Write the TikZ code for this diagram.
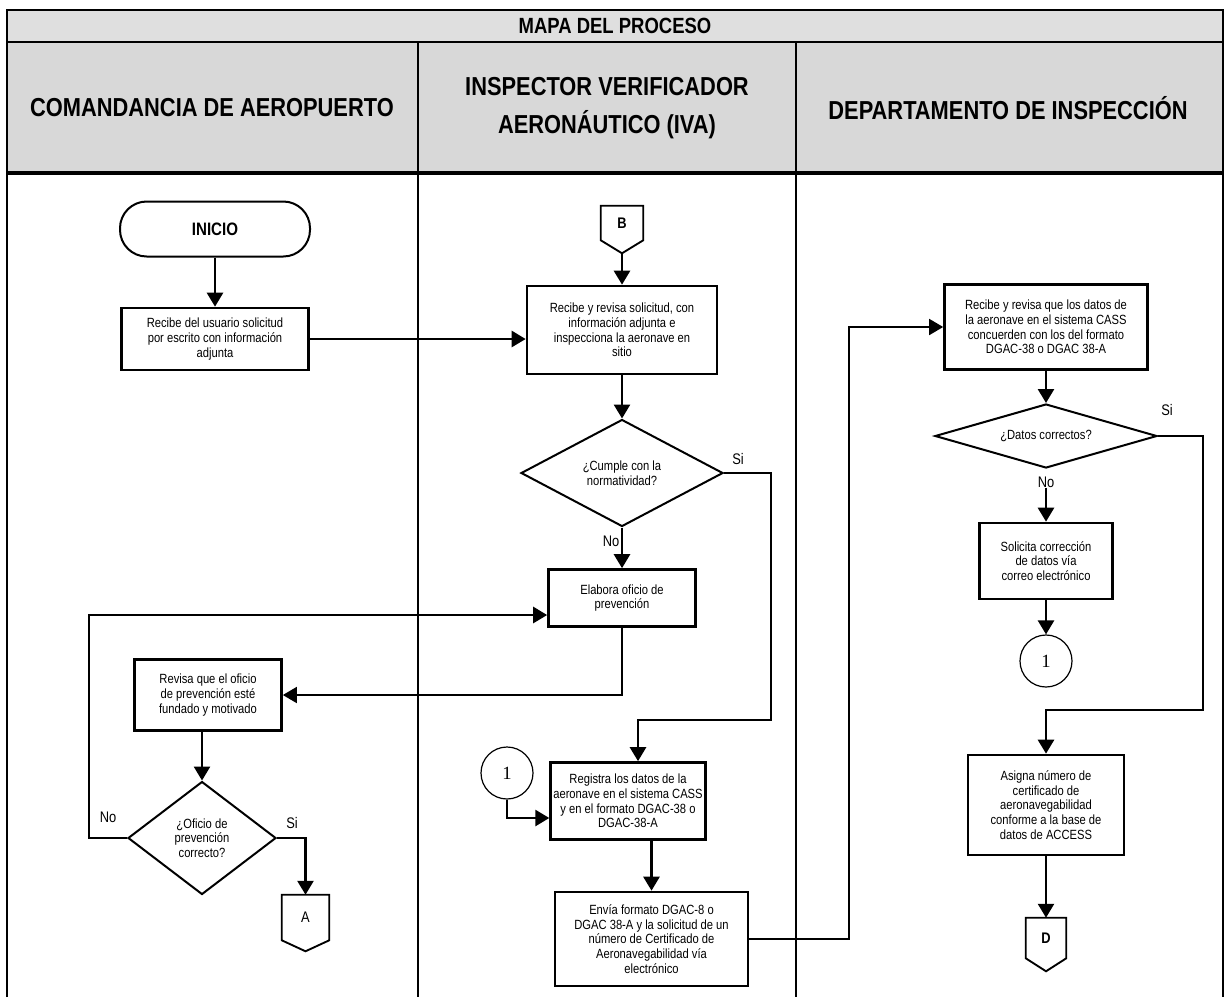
\documentclass[tikz,border=0pt]{standalone}
\usepackage{fontspec}
\setmainfont[FakeStretch=0.84]{Liberation Sans}
\newfontfamily\numfont{Liberation Serif}
\usetikzlibrary{arrows.meta,shapes.geometric}
\definecolor{hdone}{RGB}{223,223,223}
\definecolor{hdtwo}{RGB}{216,216,216}

\begin{document}
\begin{tikzpicture}[x=0.75pt,y=-0.75pt,
  lane/.style={align=center,font=\bfseries\fontsize{19.5}{29}\selectfont},
  term/.style={draw,line width=1.5pt,rounded corners=20pt,minimum width=142.5pt,minimum height=41.25pt,font=\bfseries\fontsize{13.5}{13.5}\selectfont},
  box/.style={draw,line width=2pt,align=center,inner sep=2pt,font=\fontsize{10}{11}\selectfont},
  dec/.style={diamond,draw,line width=1.5pt,align=center,inner sep=0pt,font=\fontsize{10}{11}\selectfont},
  conn/.style={circle,draw,line width=0.9pt,minimum size=39pt,inner sep=0pt,font=\numfont\fontsize{14}{14}\selectfont},
  page/.style={inner sep=0pt,font=\bfseries\fontsize{11.5}{11.5}\selectfont},
  lab/.style={inner sep=0pt,font=\fontsize{11.5}{11.5}\selectfont},
  arr/.style={line width=2pt,-{Triangle[length=10.5pt,width=12pt]}},
  link/.style={line width=1.3pt}]
  \useasboundingbox (0,0) rectangle (1226,997);
  \fill[hdone] (7,10) rectangle (1223,42);
  \fill[hdtwo] (7,42) rectangle (1223,173);
  \draw[line width=1.6pt] (7,997) -- (7,10) -- (1223,10) -- (1223,997);
  \draw[line width=1.6pt] (7,42) -- (1223,42);
  \draw[line width=2.4pt] (7,173) -- (1223,173);
  \foreach \x in {418,796} { \draw[line width=1.2pt] (\x,42) -- (\x,997); }

  \node[font=\bfseries\fontsize{16.5}{16.5}\selectfont] (mapa) at (615,26) {MAPA DEL PROCESO};
  \node[lane] (cda) at (212,108) {COMANDANCIA DE AEROPUERTO};
  \node[lane] (iva) at (607,108) {INSPECTOR VERIFICADOR\\AERONÁUTICO (IVA)};
  \node[lane] (dpi) at (1008,108) {DEPARTAMENTO DE INSPECCIÓN};

  \node[term] (ini) at (215,229) {INICIO};
  \node[box,minimum width=140.25pt,minimum height=46.5pt] (rcb) at (215,339) {Recibe del usuario solicitud\\por escrito con información\\adjunta};
  \node[box,minimum width=110.25pt,minimum height=53.25pt] (rev) at (208,695) {Revisa que el oficio\\de prevención esté\\fundado y motivado};
  \node[dec,minimum width=111pt,minimum height=84.75pt,aspect=1.31] (ofi) at (202,838) {¿Oficio de\\prevención\\correcto?};
  \node[page,font=\fontsize{11.5}{11.5}\selectfont,minimum width=35.25pt,minimum height=33.75pt] (A) at (305.5,917.5) {A};
  \coordinate (Atip) at ([yshift=-8.25pt]A.south);

  \node[page,minimum width=31.5pt,minimum height=25.5pt] (B) at (622,223) {B};
  \coordinate (Btip) at ([yshift=-9.75pt]B.south);
  \node[box,minimum width=142.5pt,minimum height=66pt] (rvs) at (622,330) {Recibe y revisa solicitud, con\\información adjunta e\\inspecciona la aeronave en\\sitio};
  \node[dec,minimum width=151.5pt,minimum height=80.25pt,aspect=1.89] (cum) at (622,473) {¿Cumple con la\\normatividad?};
  \node[box,minimum width=110.25pt,minimum height=42.75pt] (ela) at (622,598) {Elabora oficio de\\prevención};
  \node[conn] (uno) at (507,773) {1};
  \node[box,minimum width=108pt,minimum height=57.75pt] (reg) at (628,801) {Registra los datos de la\\aeronave en el sistema CASS\\y en el formato DGAC-38 o\\DGAC-38-A};
  \node[box,minimum width=144.75pt,minimum height=70.5pt] (env) at (651.5,939) {Envía formato DGAC-8 o\\DGAC 38-A y la solicitud de un\\número de Certificado de\\Aeronavegabilidad vía\\electrónico};

  \node[box,minimum width=152.25pt,minimum height=63.75pt] (dep) at (1046,327) {Recibe y revisa que los datos de\\la aeronave en el sistema CASS\\concuerden con los del formato\\DGAC-38 o DGAC 38-A};
  \node[dec,minimum width=166.5pt,minimum height=48pt,aspect=3.47] (dat) at (1046,436) {¿Datos correctos?};
  \node[box,minimum width=99.75pt,minimum height=57pt] (sol) at (1046,561) {Solicita corrección\\de datos vía\\correo electrónico};
  \node[conn] (dos) at (1046,661) {1};
  \node[box,minimum width=117pt,minimum height=75pt] (asi) at (1046,805) {Asigna número de\\certificado de\\aeronavegabilidad\\conforme a la base de\\datos de ACCESS};
  \node[page,minimum width=30pt,minimum height=30pt] (D) at (1046,938) {D};
  \coordinate (Dtip) at ([yshift=-9.75pt]D.south);

  \foreach \p/\t in {A/Atip,B/Btip,D/Dtip} {
    \draw[line width=1.4pt] (\p.north west) -- (\p.north east) -- (\p.south east) -- (\t) -- (\p.south west) -- cycle;
  }

  \node[lab] (si1) at (738,459) {Si};
  \node[lab] (no1) at (611,541) {No};
  \node[lab] (no2) at (108,817) {No};
  \node[lab] (si2) at (292,823) {Si};
  \node[lab] (si3) at (1167,410) {Si};
  \node[lab] (no3) at (1046,482) {No};

  \draw[arr] (ini) -- (rcb);
  \draw[arr] (rcb.east) -- (rcb.east -| rvs.west);
  \draw[arr] (Btip) -- (rvs);
  \draw[arr] (rvs) -- (cum);
  \draw[arr] (cum) -- (ela);
  \draw[arr] (cum.east) -| (771,720) -| ([xshift=7.5pt]reg.north);
  \draw[link,-{Triangle[length=10.5pt,width=12pt]}] (ela.south) |- (rev.east);
  \draw[arr] (rev.south -| ofi.north) -- (ofi.north);
  \draw[arr] (ofi.west) -- ++(-38,0) |- ([yshift=-12.75pt]ela.west);
  \draw[arr] (ofi.east) -| (A.north);
  \draw[arr] (uno.south) |- ([yshift=-12.75pt]reg.west);
  \draw[arr] (reg.south -| env.north) -- (env.north);
  \draw[link,-{Triangle[length=10.5pt,width=12pt]}] (env.east) -- ++(100,0) |- (dep.west);
  \draw[arr] (dep) -- (dat);
  \draw[arr] (no3) -- (sol);
  \draw[arr] (sol) -- (dos);
  \draw[arr] (dat.east) -| (1203,710) -| (asi.north);
  \draw[arr] (asi) -- (D.north);
\end{tikzpicture}
\end{document}
